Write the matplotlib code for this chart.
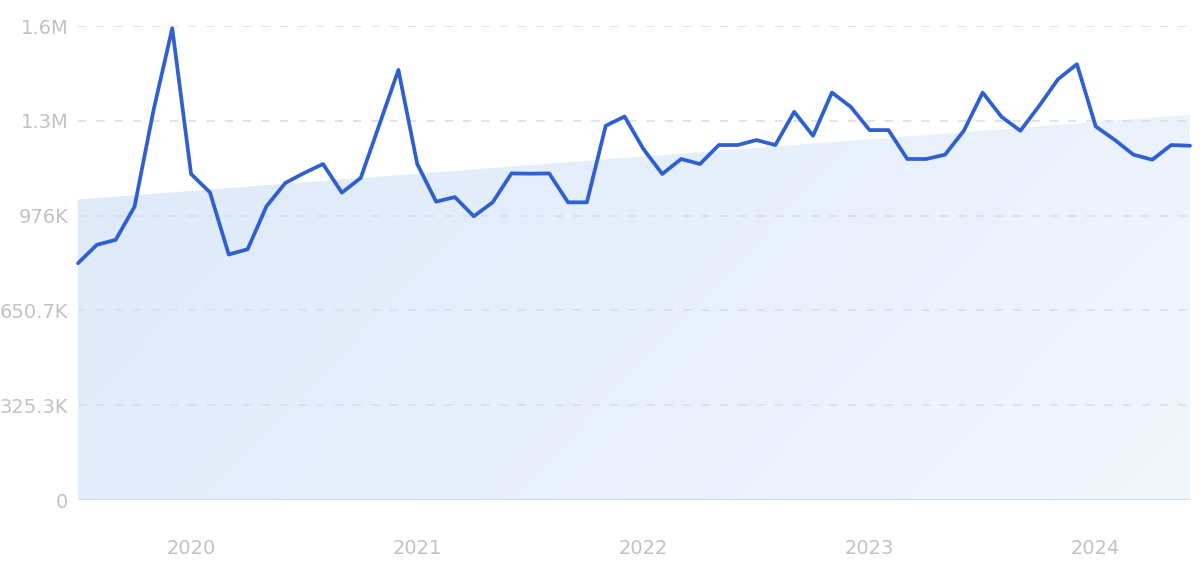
import numpy as np
import matplotlib
matplotlib.use("Agg")
import matplotlib.pyplot as plt
from matplotlib.patches import Polygon

# Monthly values (thousands), Jul 2019 - Jun 2024
values_k = [812.6, 875.6, 892.7, 1006.7, 1335.4, 1618.6, 1118.7, 1055.7, 842.4, 860.5,
            1007.8, 1087.9, 1122.1, 1152.9, 1054.7, 1105.0, 1289.9, 1475.8, 1152.9, 1023.8,
            1039.3, 973.5, 1021.4, 1120.7, 1119.7, 1120.7, 1021.4, 1021.4, 1284.1, 1315.9,
            1204.3, 1118.7, 1170.1, 1152.9, 1218.0, 1218.0, 1235.1, 1218.0, 1332.0, 1249.8,
            1398.1, 1349.1, 1269.4, 1269.4, 1170.1, 1170.1, 1184.8, 1267.0, 1398.1, 1314.9,
            1267.0, 1352.6, 1444.0, 1495.4, 1281.7, 1236.1, 1184.8, 1167.7, 1218.0, 1215.6]
trend_k = [1030.7, 1321.7]  # trend area start / end
year_labels = ["2020", "2021", "2022", "2023", "2024"]
year_positions = [6, 18, 30, 42, 54]
y_ticks = [0, 325.3, 650.7, 976.0, 1301.0, 1626.5]
y_labels = ["0", "325.3K", "650.7K", "976K", "1.3M", "1.6M"]

vals = np.array(values_k) * 1000
x = np.arange(len(vals))

fig = plt.figure(figsize=(12, 5.61), dpi=100)
ax = fig.add_axes([78/1200, 1-500/561, (1190-78)/1200, (500-26)/561])
ax.set_xlim(0, len(vals)-1)
ax.set_ylim(0, y_ticks[-1]*1000)

# gradient-filled trend area
poly = Polygon([[0, 0], [0, trend_k[0]*1000], [len(vals)-1, trend_k[1]*1000], [len(vals)-1, 0]],
               closed=True, facecolor='none', edgecolor='none')
ax.add_patch(poly)
gx, gy = np.meshgrid(np.linspace(0, 1, 200), np.linspace(0, 1, 200))
t = np.clip(0.75*gx + 0.25*(1-gy), 0, 1)
c0 = np.array([221, 233, 250]) / 255
c1 = np.array([242, 246, 253]) / 255
img = c0[None, None, :]*(1-t[..., None]) + c1[None, None, :]*t[..., None]
im = ax.imshow(img, extent=[0, len(vals)-1, 0, trend_k[1]*1000], origin='lower',
               aspect='auto', zorder=1)
im.set_clip_path(poly)

for yt in y_ticks[1:]:
    ax.axhline(yt*1000, color='#d9dfe9', lw=1.2, linestyle=(0, (5, 6)), zorder=2)
ax.axhline(0, color='#c8d8f3', lw=1.2, zorder=2)

ax.plot(x, vals, color='#2e5fd3', lw=2.7, zorder=4, solid_joinstyle='round',
        solid_capstyle='round', clip_on=False)

for s in ax.spines.values():
    s.set_visible(False)
ax.set_yticks([v*1000 for v in y_ticks])
ax.set_yticklabels(y_labels)
ax.set_xticks(year_positions)
ax.set_xticklabels(year_labels)
ax.tick_params(axis='both', length=0, colors='#c2c2c2', labelsize=14)
ax.tick_params(axis='y', pad=7)
ax.tick_params(axis='x', pad=28)

fig.savefig("out.png", dpi=100)
